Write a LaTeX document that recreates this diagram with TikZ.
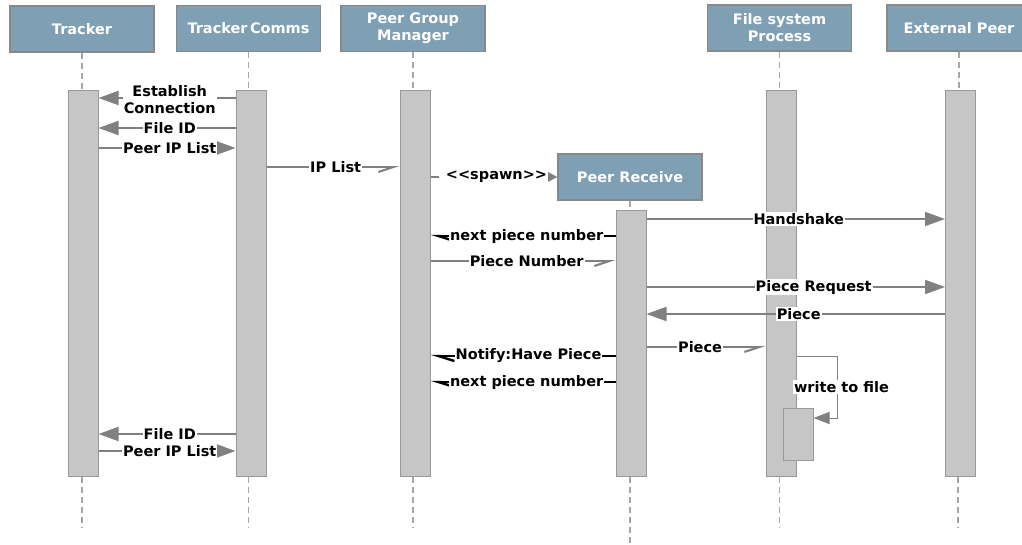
\documentclass[tikz,border=0pt]{standalone}
\usepackage{fontspec}
\setmainfont{DejaVu Sans}
\usetikzlibrary{arrows.meta}
\definecolor{headfill}{HTML}{7F9FB4}
\definecolor{headline}{HTML}{888888}
\definecolor{barfill}{HTML}{C6C6C6}
\definecolor{barline}{HTML}{999999}
\definecolor{msggray}{HTML}{808080}
\definecolor{lifegray}{HTML}{A6A6A6}
\begin{document}
\begin{tikzpicture}[x=1pt,y=-1pt,
  header/.style={draw=headline, line width=1.2pt, fill=headfill, text=white,
    font=\fontsize{14.5}{17}\selectfont\bfseries, minimum width=144pt,
    minimum height=46pt, align=center, inner sep=0pt},
  actbar/.style={draw=barline, line width=1pt, fill=barfill, minimum width=30pt, inner sep=0pt},
  lifeline/.style={draw=lifegray, line width=1.8pt, dash pattern=on 6pt off 4pt},
  msg/.style={draw=msggray, line width=2pt, -{Triangle[length=20pt,width=14pt]}},
  rharp/.style={draw=msggray, line width=2pt, -{Straight Barb[harpoon,swap,length=15pt,width=10pt]}},
  lharpblack/.style={draw=black, line width=2.4pt, -{Straight Barb[harpoon,length=16pt,width=10pt]}},
  spawnmsg/.style={draw=msggray, line width=2pt, dash pattern=on 8pt off 6pt, -{Triangle[length=10pt,width=10pt]}},
  selfmsg/.style={draw=msggray, line width=1pt, -{Triangle[length=16pt,width=12pt]}},
  lbl/.style={fill=white, inner sep=1pt, text=black, align=center,
    font=\fontsize{14.5}{17}\selectfont\bfseries}
]
\useasboundingbox (0,0) rectangle (1022,544);

% participants
\node[header] (trk) at (82,29) {Tracker};
\node[header] (tc) at (248.5,28.5) {Tracker\,Comms};
\node[header] (pgm) at (413,28.5) {Peer Group\\Manager};
\node[header] (fsp) at (779.5,28) {File system\\Process};
\node[header] (ep) at (959,28) {External Peer};

% activation bars
\node[actbar, minimum height=386pt] (trkbar) at (83,283) {};
\node[actbar, minimum height=386pt] (tcbar) at (251,283) {};
\node[actbar, minimum height=386pt] (pgmbar) at (415,283) {};
\node[actbar, minimum height=386pt] (fspbar) at (781,283) {};
\node[actbar, minimum height=386pt] (epbar) at (960.5,283) {};

% lifeline ends
\coordinate (trkend) at (82,528);
\coordinate (tcend) at (248.5,528);
\coordinate (pgmend) at (413,528);
\coordinate (fspend) at (779.5,528);
\coordinate (epend) at (958,528);
\coordinate (prend) at (630,544);

% spawned participant
\node[header] (pr) at (630,177) {Peer Receive};
\node[actbar, minimum height=266pt] (prbar) at (631,343) {};
\node[actbar, minimum height=52pt] (nest) at (798,434) {};

% lifelines
\draw[lifeline] (trk.south) -- (trk.south |- trkbar.north);
\draw[lifeline] (trkend |- trkbar.south) -- (trkend);
\draw[lifeline] (tc.south) -- (tc.south |- tcbar.north);
\draw[lifeline] (tcend |- tcbar.south) -- (tcend);
\draw[lifeline] (pgm.south) -- (pgm.south |- pgmbar.north);
\draw[lifeline] (pgmend |- pgmbar.south) -- (pgmend);
\draw[lifeline] (fsp.south) -- (fsp.south |- fspbar.north);
\draw[lifeline] (fspend |- fspbar.south) -- (fspend);
\draw[lifeline] (ep.south) -- (ep.south |- epbar.north);
\draw[lifeline] (epend |- epbar.south) -- (epend);
\draw[lifeline] (pr.south) -- (pr.south |- prbar.north);
\draw[lifeline] (prend |- prbar.south) -- (prend);

% message rows
\coordinate (m1) at (0,98);
\coordinate (m2) at (0,128);
\coordinate (m3) at (0,148);
\coordinate (m4) at (0,167);
\coordinate (m5) at (0,177);
\coordinate (m6) at (0,219);
\coordinate (m7) at (0,236);
\coordinate (m8) at (0,261);
\coordinate (m9) at (0,287);
\coordinate (m10) at (0,314);
\coordinate (m11) at (0,347);
\coordinate (m12) at (0,356);
\coordinate (m13) at (0,382);
\coordinate (m14) at (0,434);
\coordinate (m15) at (0,451);
\coordinate (selfend) at (0,418);

% messages
\draw[msg] (tcbar.west |- m1) -- node[lbl, pos=0.48, yshift=-2pt] {Establish\\Connection} (trkbar.east |- m1);
\draw[msg] (tcbar.west |- m2) -- node[lbl, pos=0.48] {File ID} (trkbar.east |- m2);
\draw[msg] (trkbar.east |- m3) -- node[lbl, pos=0.52] {Peer IP List} (tcbar.west |- m3);
\draw[rharp] (tcbar.east |- m4) -- node[lbl, pos=0.52] {IP List} (pgmbar.west |- m4);
\draw[spawnmsg] (pgmbar.east |- m5) -- node[lbl, pos=0.52] {<{}<spawn>{}>} (pr.west);
\draw[msg] (prbar.east |- m6) -- node[lbl, pos=0.51] {Handshake} (epbar.west |- m6);
\draw[lharpblack] (prbar.west |- m7) -- node[lbl, pos=0.48] {next piece number} (pgmbar.east |- m7);
\draw[rharp] (pgmbar.east |- m8) -- node[lbl, pos=0.52] {Piece Number} (prbar.west |- m8);
\draw[msg] (prbar.east |- m9) -- node[lbl, pos=0.56] {Piece Request} (epbar.west |- m9);
\draw[msg] (epbar.west |- m10) -- node[lbl, pos=0.49] {Piece} (prbar.east |- m10);
\draw[rharp] (prbar.east |- m11) -- node[lbl, pos=0.45] {Piece} (fspbar.west |- m11);
\draw[lharpblack] (prbar.west |- m12) -- node[lbl, pos=0.47] {Notify:Have Piece} (pgmbar.east |- m12);
\draw[lharpblack] (prbar.west |- m13) -- node[lbl, pos=0.48] {next piece number} (pgmbar.east |- m13);
\draw[selfmsg] (fspbar.east |- m12) -- ++(41,0) |- node[lbl, pos=0.25, xshift=4pt] {write to file} (nest.east |- selfend);
\draw[msg] (tcbar.west |- m14) -- node[lbl, pos=0.48] {File ID} (trkbar.east |- m14);
\draw[msg] (trkbar.east |- m15) -- node[lbl, pos=0.52] {Peer IP List} (tcbar.west |- m15);
\end{tikzpicture}
\end{document}
